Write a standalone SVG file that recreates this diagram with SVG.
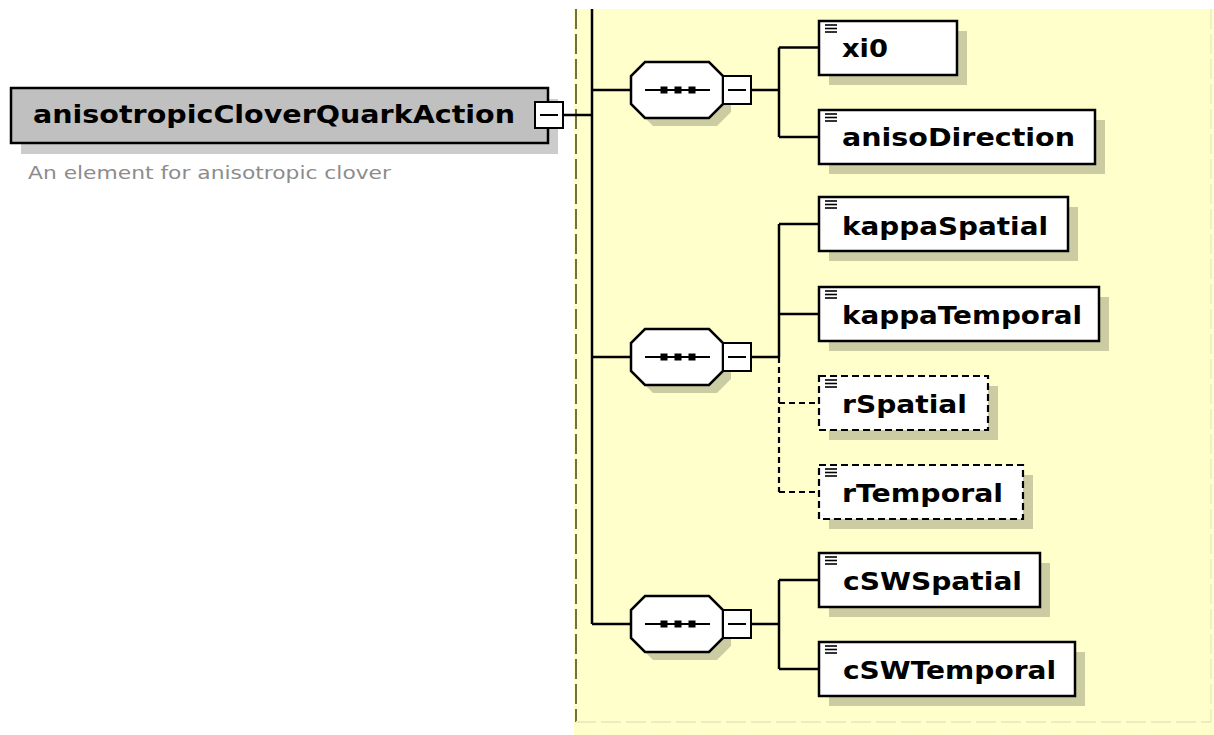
<svg xmlns="http://www.w3.org/2000/svg" width="1214" height="735" viewBox="0 0 1214 735">
<defs>
<style>
.ln{stroke:#000;stroke-width:2.5;fill:none}
.dl{stroke:#000;stroke-width:2.2;fill:none;stroke-dasharray:6 4}
.sh{fill:#000;fill-opacity:0.2}
.el{fill:#fff;stroke:#000;stroke-width:2.5}
.eld{fill:#fff;stroke:#000;stroke-width:2.2;stroke-dasharray:7 4}
.lbl{font-family:"DejaVu Sans",Verdana,sans-serif;font-weight:bold;font-size:24px;fill:#000}
.ic{stroke:#000;stroke-width:1.6}
.mb{fill:#fff;stroke:#000;stroke-width:2}
</style>
<g id="seq">
<polygon class="sh" points="653,-20 717,-20 731,-6 731,22 717,36 653,36 639,22 639,-6"/>
<polygon points="645,-28 709,-28 723,-14 723,14 709,28 645,28 631,14 631,-14" fill="#fff" stroke="#000" stroke-width="2.5"/>
<line x1="645" y1="0" x2="710" y2="0" stroke="#000" stroke-width="2"/>
<rect x="660.5" y="-3.5" width="7" height="7" fill="#000"/>
<rect x="674.5" y="-3.5" width="7" height="7" fill="#000"/>
<rect x="688.5" y="-3.5" width="7" height="7" fill="#000"/>
<rect class="mb" x="723" y="-14" width="28" height="28"/>
<line x1="728" y1="0" x2="746" y2="0" stroke="#000" stroke-width="2"/>
</g>
<g id="icon">
<line class="ic" x1="825" y1="4" x2="837" y2="4"/>
<line class="ic" x1="825" y1="7.5" x2="837" y2="7.5"/>
<line class="ic" x1="825" y1="11" x2="837" y2="11"/>
</g>
</defs>

<rect x="0" y="0" width="1214" height="735" fill="#fff"/>
<g id="background">
<rect x="574" y="9" width="640" height="726" fill="#ffffcc"/>
<line x1="576" y1="9" x2="576" y2="722" stroke="#707048" stroke-width="2" stroke-dasharray="20 5"/>
<line x1="576" y1="722" x2="1211" y2="722" stroke="#ececc0" stroke-width="2" stroke-dasharray="20 5"/>
<line x1="1211" y1="9" x2="1211" y2="722" stroke="#f0f0c4" stroke-width="2" stroke-dasharray="20 5"/>
</g>

<g id="connectors">
<path class="ln" d="M563,115 H592 M592,9 V624 M592,90 H631 M592,357 H631 M592,624 H631"/>
<path class="ln" d="M751,90 H779 M779,47.5 V137 M779,47.5 H819 M779,137 H819"/>
<path class="ln" d="M751,357 H779 M779,224 V357 M779,224 H819 M779,314 H819"/>
<path class="dl" d="M779,357 V492 M779,403 H819 M779,492 H819"/>
<path class="ln" d="M751,624 H779 M779,580 V669 M779,580 H819 M779,669 H819"/>
</g>

<g id="anisotropicCloverQuarkAction">
<rect x="21" y="99" width="537" height="55" fill="#000" fill-opacity="0.2"/>
<rect x="11" y="88" width="537" height="55" fill="#c0c0c0" stroke="#000" stroke-width="2.5"/>
<text class="lbl" x="33" y="123" textLength="482" lengthAdjust="spacingAndGlyphs">anisotropicCloverQuarkAction</text>
<rect class="mb" x="535" y="102" width="28" height="26"/>
<line x1="540" y1="115" x2="558" y2="115" stroke="#000" stroke-width="2"/>
<text x="28" y="179" font-family="DejaVu Sans, Verdana, sans-serif" font-size="17" fill="#8c8c8c" textLength="363" lengthAdjust="spacingAndGlyphs">An element for anisotropic clover</text>
</g>

<g id="sequence1"><use href="#seq" transform="translate(0,90)"/></g>
<g id="sequence2"><use href="#seq" transform="translate(0,357)"/></g>
<g id="sequence3"><use href="#seq" transform="translate(0,624)"/></g>

<g id="xi0">
<rect class="sh" x="829" y="31" width="138" height="54"/>
<rect class="el" x="819" y="21" width="138" height="54"/>
<use href="#icon" transform="translate(0,21)"/>
<text class="lbl" x="842" y="57" textLength="46" lengthAdjust="spacingAndGlyphs">xi0</text>
</g>
<g id="anisoDirection">
<rect class="sh" x="829" y="120" width="276" height="54"/>
<rect class="el" x="819" y="110" width="276" height="54"/>
<use href="#icon" transform="translate(0,110)"/>
<text class="lbl" x="842" y="146" textLength="233" lengthAdjust="spacingAndGlyphs">anisoDirection</text>
</g>
<g id="kappaSpatial">
<rect class="sh" x="829" y="207" width="249" height="54"/>
<rect class="el" x="819" y="197" width="249" height="54"/>
<use href="#icon" transform="translate(0,197)"/>
<text class="lbl" x="842" y="235" textLength="206" lengthAdjust="spacingAndGlyphs">kappaSpatial</text>
</g>
<g id="kappaTemporal">
<rect class="sh" x="829" y="297" width="280" height="54"/>
<rect class="el" x="819" y="287" width="280" height="54"/>
<use href="#icon" transform="translate(0,287)"/>
<text class="lbl" x="842" y="324" textLength="240" lengthAdjust="spacingAndGlyphs">kappaTemporal</text>
</g>
<g id="rSpatial">
<rect class="sh" x="829" y="386" width="169" height="54"/>
<rect class="eld" x="819" y="376" width="169" height="54"/>
<use href="#icon" transform="translate(0,376)"/>
<text class="lbl" x="842" y="413" textLength="125" lengthAdjust="spacingAndGlyphs">rSpatial</text>
</g>
<g id="rTemporal">
<rect class="sh" x="829" y="475" width="204" height="54"/>
<rect class="eld" x="819" y="465" width="204" height="54"/>
<use href="#icon" transform="translate(0,465)"/>
<text class="lbl" x="842" y="502" textLength="161" lengthAdjust="spacingAndGlyphs">rTemporal</text>
</g>
<g id="cSWSpatial">
<rect class="sh" x="829" y="563" width="221" height="54"/>
<rect class="el" x="819" y="553" width="221" height="54"/>
<use href="#icon" transform="translate(0,553)"/>
<text class="lbl" x="843" y="590" textLength="179" lengthAdjust="spacingAndGlyphs">cSWSpatial</text>
</g>
<g id="cSWTemporal">
<rect class="sh" x="829" y="652" width="256" height="54"/>
<rect class="el" x="819" y="642" width="256" height="54"/>
<use href="#icon" transform="translate(0,642)"/>
<text class="lbl" x="843" y="679" textLength="213" lengthAdjust="spacingAndGlyphs">cSWTemporal</text>
</g>
</svg>
